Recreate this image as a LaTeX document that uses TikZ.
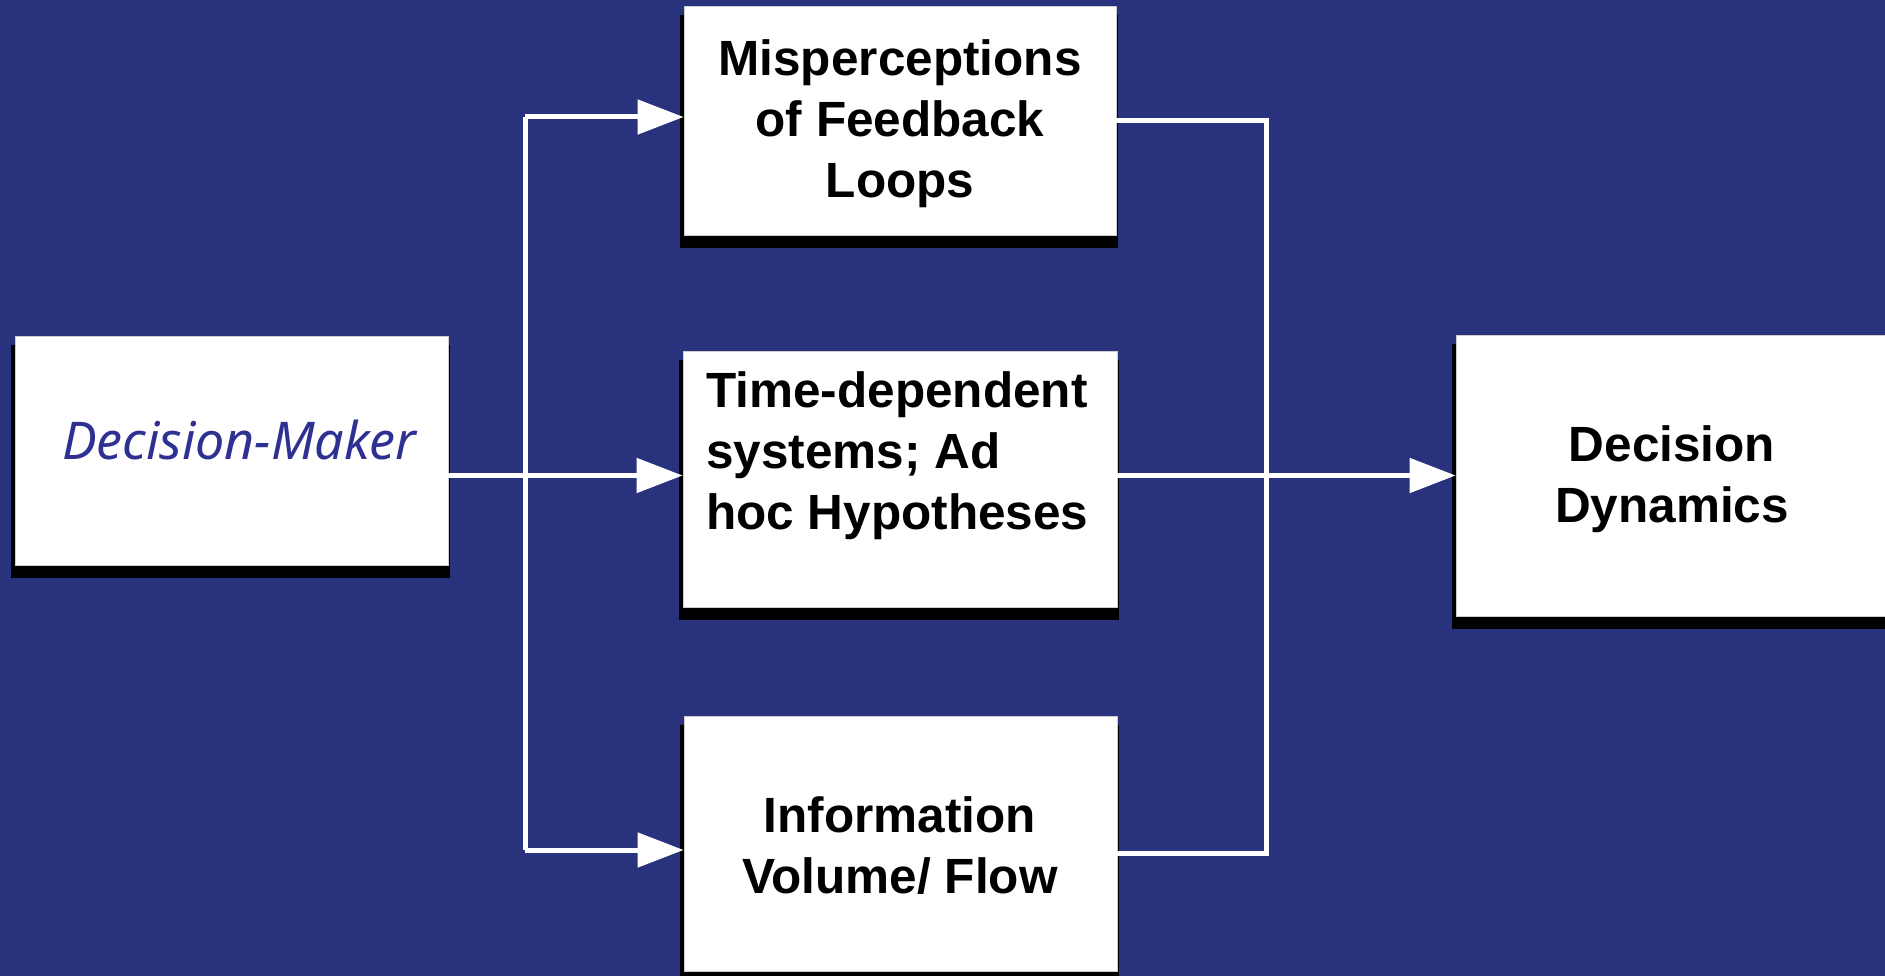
\documentclass[tikz,border=0pt]{standalone}
\usepackage{fontspec}
\setmainfont{Liberation Sans}
\newfontfamily\dmfont{Noto Sans}
\usetikzlibrary{arrows.meta,shadows}
\definecolor{bg}{RGB}{41,50,124}
\definecolor{dmblue}{RGB}{46,49,146}
\begin{document}
\begin{tikzpicture}[x=1pt,y=-1pt,
  box/.style={draw=gray!40, line width=0.8pt, fill=white, inner sep=0pt,
    drop shadow={shadow xshift=-1pt, shadow yshift=-11pt, shadow scale=1.015, fill=black, opacity=1}},
  txt/.style={inner sep=0pt, align=center, text=black, font=\fontsize{49.5}{61}\selectfont\bfseries},
  wline/.style={white, line width=5pt},
  arr/.style={wline, -{Triangle[length=46pt,width=34pt]}}]
\fill[bg] (0,0) rectangle (1885,976);
\useasboundingbox (0,0) rectangle (1885,976);
% boxes
\node[box, minimum width=433pt, minimum height=229pt] (dm) at (231.5,450.5) {};
\node[box, minimum width=432pt, minimum height=229pt] (misp) at (900,120.5) {};
\node[box, minimum width=434pt, minimum height=256pt] (time) at (900,479) {};
\node[box, minimum width=433pt, minimum height=255pt] (info) at (900.5,843.5) {};
\node[box, minimum width=434pt, minimum height=281pt] (dd) at (1673,475.5) {};
% texts
\node[inner sep=0pt, text=dmblue, font=\dmfont\itshape\fontsize{52}{60}\selectfont] (dmtext) at (239,440) {Decision-Maker};
\node[txt] (misptext) at (900,124) {Misperceptions\\of Feedback\\Loops};
\node[txt, align=left, anchor=west] (timetext) at (706,456) {Time-dependent\\systems; Ad\\hoc Hypotheses};
\node[txt] (infotext) at (900,846) {Information\\Volume/ Flow};
\node[txt] (ddtext) at (1672,479) {Decision\\Dynamics};
% connectors
\coordinate (splitT) at (525,117);
\coordinate (splitB) at (525,850);
\draw[arr] (dm.east |- dd.west) -- (time.west |- dd.west);
\draw[wline] (splitT) -- (splitB);
\draw[arr] (splitT) -- (splitT -| misp.west);
\draw[arr] (splitB) -- (splitB -| info.west);
\coordinate (merge) at (1266,119);
\draw[wline] (misp.east) -- (misp.east -| merge) |- ([yshift=-10pt]info.east);
\draw[arr] (time.east |- dd.west) -- (dd.west);
\end{tikzpicture}
\end{document}
